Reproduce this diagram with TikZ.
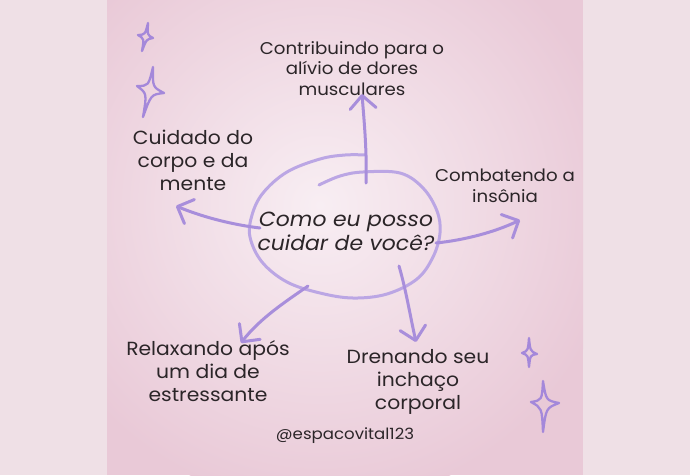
\documentclass[tikz,border=0pt]{standalone}
\usepackage{fontspec}
\setmainfont{Poppins}[FakeStretch=1.07]
\usetikzlibrary{arrows.meta,calc}
\definecolor{marginc}{HTML}{EFE0E6}
\definecolor{edgec}{HTML}{E9C9D7}
\definecolor{centerc}{HTML}{F8EEF3}
\definecolor{circc}{HTML}{BBA6E4}
\definecolor{arrc}{HTML}{A88EDB}
\definecolor{starc}{HTML}{A488DA}
\definecolor{txt}{HTML}{2B2528}
\tikzset{
  x=1pt,y=-1pt,
  lbl/.style={align=center,text=txt,inner sep=0pt},
  lblA/.style={lbl,font=\fontsize{17}{20.5}\selectfont},
  lblB/.style={lbl,font=\fontsize{19}{23.3}\selectfont},
  conn/.style={draw=arrc,line width=3pt,line cap=round,
    -{Straight Barb[length=13pt,width=26pt,line width=3pt,round]}},
  spark/.style={draw=starc,line width=2.3pt,line join=round},
}
\newcommand{\sparkle}[5]{% top right bottom left center
  \draw[spark] #1 .. controls ($#5!0.3!($#1!0.5!#2$)$) .. #2
    .. controls ($#5!0.3!($#2!0.5!#3$)$) .. #3
    .. controls ($#5!0.3!($#3!0.5!#4$)$) .. #4
    .. controls ($#5!0.3!($#4!0.5!#1$)$) .. cycle;}
\begin{document}
\begin{tikzpicture}
\useasboundingbox (0,0) rectangle (690,475);
\fill[marginc] (0,0) rectangle (690,475);
\begin{scope}
  \clip (107,0) rectangle (583,475);
  \fill[edgec] (107,0) rectangle (583,475);
  \shade[inner color=centerc, outer color=edgec] (320,205) circle (300);
\end{scope}

% spiral ellipse
\draw[circc,line width=3pt,line cap=round] plot[smooth,tension=0.6] coordinates {
 (319,185) (340,176) (363,172) (400,173) (423,188) (437,211) (440,233)
 (433,257) (417,279) (387,294) (353,298) (320,293) (287,282) (262,262)
 (250,237) (252,215) (263,193) (287,172) (320,159) (345,155) (366,155)};

% center text
\node[lbl,font=\fontsize{20.5}{24}\selectfont\itshape] (q) at (346,231) {Como eu posso\\cuidar de você?};

% outer labels
\node[lblA] (t1) at (352,68.5) {Contribuindo para o\\alívio de dores\\musculares};
\node[lblB] (t2) at (193,160.5) {Cuidado do\\corpo e da\\mente};
\node[lblA] (t3) at (505,186) {Combatendo a\\insônia};
\node[lblB] (t4) at (208,371) {Relaxando após\\um dia de\\estressante};
\node[lblB] (t5) at (418,382) {Drenando seu\\inchaço\\corporal};
\node[lbl,font=\fontsize{15.5}{18}\selectfont] (h) at (345,436) {@espacovital123};

% connectors
\coordinate (s1) at (366,183); \coordinate (e1) at (362,94);
\coordinate (s2) at (260,228); \coordinate (e2) at (176,206);
\coordinate (s3) at (436,243); \coordinate (e3) at (520,220);
\coordinate (s4) at (308,286); \coordinate (e4) at (241,343);
\coordinate (s5) at (399,266); \coordinate (e5) at (416,342);
\draw[conn] (s1) .. controls (367,150) and (364,120) .. (e1);
\draw[conn] (s2) .. controls (235,225) and (205,218) .. (e2);
\draw[conn] (s3) .. controls (465,240) and (495,232) .. (e3);
\draw[conn] (s4) .. controls (288,300) and (260,318) .. (e4);
\draw[conn] (s5) .. controls (406,290) and (410,315) .. (e5);

% sparkles
\sparkle{(148,23)}{(153,38)}{(142,51)}{(138,35)}{(146,37)}
\sparkle{(153,67)}{(164,93)}{(143,117)}{(137,86)}{(150,90)}
\sparkle{(529,338)}{(537,354)}{(529,367)}{(522,353)}{(529,353)}
\sparkle{(543,381)}{(559,403)}{(543,432)}{(531,402)}{(544,404)}
\end{tikzpicture}
\end{document}
